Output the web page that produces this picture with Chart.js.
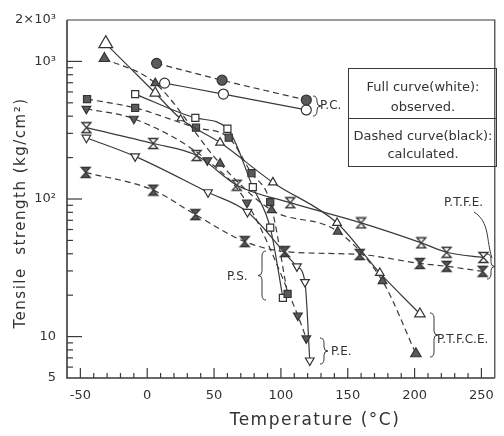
<!DOCTYPE html>
<html><head><meta charset="utf-8">
<script src="https://cdn.jsdelivr.net/npm/chart.js@4.4.1/dist/chart.umd.min.js"></script>
<style>html,body{margin:0;padding:0;background:#fff}#wrap{width:504px;height:436px;position:relative}</style>
</head><body><div id="wrap"><canvas id="c"></canvas></div>
<script>
// ---- data (temperature °C, tensile strength kg/cm²) ----
const pcObsT   = [13, 57, 119];
const pcObsV   = [695, 579, 444];
const pcCalT   = [7, 56, 119];
const pcCalV   = [968, 730, 524];
const ptfceObsT = [-31, 6, 25, 54.5, 94, 142, 174, 204];
const ptfceObsV = [1346, 589, 383, 257, 132, 67, 29, 14.6];
const ptfceCalT = [-32, 6, 54.5, 93, 142.5, 176, 201];
const ptfceCalV = [1050, 695, 181, 83, 58, 25.3, 7.5];
const psObsT   = [-9, 36, 60, 79, 92, 101.5];
const psObsV   = [579, 389, 324, 122, 62, 19.1];
const psCalT   = [-45, -9, 36.5, 61, 78, 92, 105];
const psCalV   = [533, 459, 330, 279, 154, 95, 20.4];
const peObsT   = [-45.5, -9, 45.5, 75, 112, 118, 121.6];
const peObsV   = [279, 204, 112, 80.5, 32.4, 24.9, 6.7];
const peCalT   = [-45.5, -10, 45, 74.6, 112.7, 119];
const peCalV   = [452, 383, 191, 94, 14.2, 9.7];
const ptfeObsT = [-45.5, 4.5, 37, 67, 107, 160, 205, 224, 251.5];
const ptfeObsV = [330, 253, 207, 126, 94, 67, 48, 41, 37.6];
const ptfeCalT = [-46, 4.5, 36, 73, 103, 159, 204, 224, 251];
const ptfeCalV = [156, 116, 77, 49, 41.5, 39.5, 34, 32.4, 29.8];

const xLabelValues = [-50, 0, 50, 100, 150, 200, 250];
const yLabelMap = {5:'5', 10:'10', 100:'10²', 1000:'10³', 2000:'2×10³'};
const yMinorTicks = [6,7,8,9,20,30,40,50,60,70,80,90,200,300,400,500,600,700,800,900];
const yMajorTicks = [10,100,1000];

const INK = '#3a3a3a';
const FONT = '"DejaVu Sans", sans-serif';

function pts(T, V){ return T.map((t,i)=>({x:t, y:V[i]})); }

function hourglass(filled){
  const c=document.createElement('canvas'); c.width=13; c.height=13;
  const g=c.getContext('2d');
  g.beginPath(); g.moveTo(2,1.5); g.lineTo(11,1.5); g.lineTo(2,11.5); g.lineTo(11,11.5); g.closePath();
  g.fillStyle=filled?'#5a5a5a':'#fff'; g.fill();
  g.strokeStyle='#333'; g.lineWidth=1.3; g.stroke();
  return c;
}

function ds(T, V, style, calc, radius, rot){
  return {
    data: pts(T,V),
    borderColor: INK, borderWidth: 1.2,
    borderDash: calc ? [6,4] : [],
    pointStyle: style,
    pointRadius: radius, pointHoverRadius: radius,
    pointRotation: rot||0,
    pointBackgroundColor: calc ? '#5a5a5a' : '#fff',
    pointBorderColor: '#333', pointBorderWidth: 1.2,
    cubicInterpolationMode: 'monotone', fill:false
  };
}

const datasets = [
  ds(pcCalT, pcCalV, 'circle', true, 5),
  ds(pcObsT, pcObsV, 'circle', false, 5),
  ds(ptfceCalT, ptfceCalV, 'triangle', true, [6,5,5,5,5,5,6]),
  ds(ptfceObsT, ptfceObsV, 'triangle', false, [8,6,4,5,5,5,5,6]),
  ds(psCalT, psCalV, 'rect', true, 5),
  ds(psObsT, psObsV, 'rect', false, 5),
  ds(peCalT, peCalV, 'triangle', true, 5, 180),
  ds(peObsT, peObsV, 'triangle', false, 5, 180),
  ds(ptfeCalT, ptfeCalV, hourglass(true), true, 6),
  ds(ptfeObsT, ptfeObsV, hourglass(false), false, 6)
];

function brace(ctx, x, y1, y2, dir){ // dir=1 "}" ; dir=-1 "{"
  const m=(y1+y2)/2, w=4*dir;
  ctx.beginPath();
  ctx.moveTo(x, y1);
  ctx.quadraticCurveTo(x+w, y1, x+w, y1+5);
  ctx.lineTo(x+w, m-4);
  ctx.quadraticCurveTo(x+w, m, x+2*w, m);
  ctx.quadraticCurveTo(x+w, m, x+w, m+4);
  ctx.lineTo(x+w, y2-5);
  ctx.quadraticCurveTo(x+w, y2, x, y2);
  ctx.stroke();
}

const deco = {
  id:'deco',
  afterDraw(chart){
    const {ctx, chartArea:a, scales:{x,y}} = chart;
    ctx.save();
    ctx.strokeStyle=INK; ctx.fillStyle='#333'; ctx.lineWidth=1.2;
    // frame top & right
    ctx.beginPath(); ctx.moveTo(a.left, a.top); ctx.lineTo(a.right, a.top); ctx.lineTo(a.right, a.bottom); ctx.stroke();
    // axes
    ctx.lineWidth=1.6;
    ctx.beginPath(); ctx.moveTo(a.left, a.top); ctx.lineTo(a.left, a.bottom); ctx.lineTo(a.right, a.bottom); ctx.stroke();
    ctx.lineWidth=1.2;
    // y inner ticks
    yMinorTicks.forEach(v=>{const p=y.getPixelForValue(v); ctx.beginPath(); ctx.moveTo(a.left,p); ctx.lineTo(a.left+6,p); ctx.stroke();});
    yMajorTicks.forEach(v=>{const p=y.getPixelForValue(v); ctx.beginPath(); ctx.moveTo(a.left,p); ctx.lineTo(a.left+15,p); ctx.stroke();});
    // x inner ticks
    for(let t=-50;t<=250;t+=10){const p=x.getPixelForValue(t); const L=(t%50===0)?10:5; ctx.beginPath(); ctx.moveTo(p,a.bottom); ctx.lineTo(p,a.bottom-L); ctx.stroke();}

    // axis titles
    ctx.font='15px '+FONT; ctx.textAlign='center'; ctx.textBaseline='middle';
    ctx.save(); ctx.translate(21, 213); ctx.rotate(-Math.PI/2);
    ctx.letterSpacing='1.5px';
    ctx.fillText('Tensile  strength (kg/cm²)', 0, 0);
    ctx.restore();
    ctx.save(); ctx.font='17px '+FONT; ctx.letterSpacing='1.5px';
    ctx.fillText('Temperature (°C)', 315, 421); ctx.restore();

    // legend box
    ctx.lineWidth=1;
    ctx.strokeRect(348.5, 68.5, 148, 98);
    ctx.beginPath(); ctx.moveTo(348.5,118.5); ctx.lineTo(496.5,118.5); ctx.stroke();
    ctx.font='13px '+FONT;
    ctx.fillText('Full curve(white):', 423, 88, 140);
    ctx.fillText('observed.', 423, 108, 140);
    ctx.fillText('Dashed curve(black):', 423, 137, 142);
    ctx.fillText('calculated.', 423, 155, 140);

    // series labels
    ctx.font='12px '+FONT; ctx.textAlign='left';
    ctx.lineWidth=1;
    brace(ctx, 313, 96, 116, 1); ctx.fillText('P.C.', 320, 106);
    ctx.fillText('P.T.F.E.', 444, 203);
    ctx.beginPath(); ctx.moveTo(474,212); ctx.bezierCurveTo(490,222, 486,240, 492,258); ctx.stroke();
    brace(ctx, 487, 254, 279, 1);
    ctx.fillText('P.S.', 227, 277);
    brace(ctx, 266, 251, 300, -1);
    brace(ctx, 320, 338, 364, 1); ctx.fillText('P.E.', 331, 352);
    brace(ctx, 430, 313, 357, 1); ctx.fillText('P.T.F.C.E.', 437, 340);
    ctx.restore();
  }
};

new Chart(document.getElementById('c'), {
  type:'line',
  data:{datasets},
  plugins:[deco],
  options:{
    responsive:true, maintainAspectRatio:false, animation:false,
    layout:{padding:{top:20, right:7, left:0, bottom:0}},
    plugins:{legend:{display:false}, tooltip:{enabled:false}},
    scales:{
      x:{type:'linear', min:-60, max:260,
        grid:{display:false}, border:{display:false},
        ticks:{stepSize:10, autoSkip:false, maxRotation:0, padding:2, color:'#333', font:{family:FONT,size:13},
          callback:(v)=> xLabelValues.includes(v) ? String(v) : ''},
        afterFit:(s)=>{s.height=58;}
      },
      y:{type:'logarithmic', min:5, max:2000,
        grid:{display:false}, border:{display:false},
        afterBuildTicks:(s)=>{ s.ticks = Object.keys(yLabelMap).map(Number).map(v=>({value:v})); },
        ticks:{autoSkip:false, padding:3, color:'#333', font:{family:FONT,size:13},
          callback:(v)=> yLabelMap[v] || ''},
        afterFit:(s)=>{s.width=67;}
      }
    }
  }
});
</script></body></html>
